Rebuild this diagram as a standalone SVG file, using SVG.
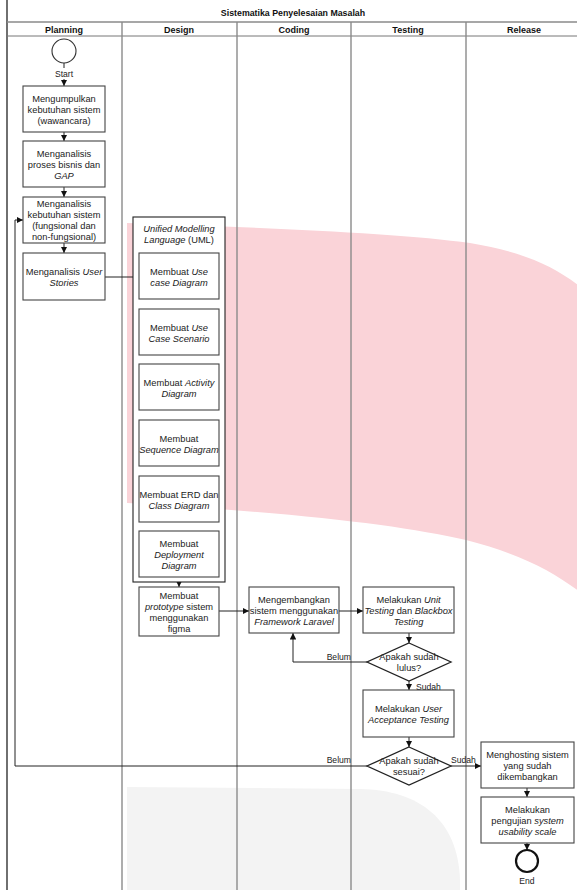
<svg xmlns="http://www.w3.org/2000/svg" width="577" height="890" viewBox="0 0 577 890">
<defs>
<style>
.t{font-family:"Liberation Sans",Arial,sans-serif;font-size:9.3px;fill:#222;text-anchor:middle}
.i{font-style:italic}
.ttl{font-family:"Liberation Sans",Arial,sans-serif;font-size:8.8px;font-weight:bold;fill:#111;text-anchor:middle}
.h{font-family:"Liberation Sans",Arial,sans-serif;font-size:9px;font-weight:bold;fill:#111;text-anchor:middle}
.lb{font-family:"Liberation Sans",Arial,sans-serif;font-size:8.6px;fill:#222}
.box{fill:#fff;stroke:#444;stroke-width:1.1}
.lane{stroke:#8a8a8a;stroke-width:1.4;fill:none}
.ln{stroke:#222;stroke-width:1;fill:none}
.arr{stroke:#222;stroke-width:1;fill:none;marker-end:url(#ah)}
</style>
<marker id="ah" viewBox="0 0 6 6" refX="6" refY="3" markerWidth="6.5" markerHeight="6.5" markerUnits="userSpaceOnUse" orient="auto">
<path d="M0,0 L6,3 L0,6 z" fill="#111"/>
</marker>
</defs>
<rect x="0" y="0" width="577" height="890" fill="#fff"/>
<g id="watermark">
<path d="M127,223 C250,227 400,233 470,243 C525,252 560,268 590,295 L590,600 C560,575 525,555 466,540 C400,525 300,513 127,503 Z" fill="#fad3d8"/>
<path d="M127,787 L360,789 C420,790 458,820 460,880 L460,890 L127,890 Z" fill="#f3f3f3"/>
</g>
<g id="pool">
<line x1="7" y1="0" x2="7" y2="890" stroke="#222" stroke-width="1.3"/>
<line x1="7" y1="22" x2="577" y2="22" class="lane"/>
<line x1="7" y1="36" x2="577" y2="36" stroke="#777" stroke-width="1"/>
<line x1="122" y1="22" x2="122" y2="890" class="lane"/>
<line x1="237" y1="22" x2="237" y2="890" class="lane"/>
<line x1="351" y1="22" x2="351" y2="890" class="lane"/>
<line x1="466" y1="22" x2="466" y2="890" class="lane"/>
<text class="ttl" x="293" y="16">Sistematika Penyelesaian Masalah</text>
<text class="h" x="64" y="32.5">Planning</text>
<text class="h" x="179" y="32.5">Design</text>
<text class="h" x="294" y="32.5">Coding</text>
<text class="h" x="408" y="32.5">Testing</text>
<text class="h" x="524" y="32.5">Release</text>
</g>
<g id="connectors">
<line class="ln" x1="64" y1="63" x2="64" y2="68"/>
<line class="arr" x1="64" y1="79" x2="64" y2="86"/>
<line class="arr" x1="64" y1="132" x2="64" y2="141"/>
<line class="arr" x1="64" y1="187" x2="64" y2="197"/>
<line class="arr" x1="64" y1="243" x2="64" y2="253"/>
<line class="arr" x1="105" y1="277" x2="139" y2="277"/>
<line class="arr" x1="179" y1="299" x2="179" y2="309"/>
<line class="arr" x1="179" y1="355" x2="179" y2="364"/>
<line class="arr" x1="179" y1="410" x2="179" y2="420"/>
<line class="arr" x1="179" y1="466" x2="179" y2="476"/>
<line class="arr" x1="179" y1="522" x2="179" y2="531"/>
<line class="arr" x1="179" y1="577" x2="179" y2="587"/>
<line class="arr" x1="219" y1="611" x2="249" y2="611"/>
<line class="arr" x1="339" y1="611" x2="363" y2="611"/>
<line class="arr" x1="409" y1="633" x2="409" y2="643"/>
<polyline class="arr" points="367,662 293,662 293,633"/>
<line class="arr" x1="409" y1="681" x2="409" y2="690"/>
<line class="arr" x1="409" y1="737" x2="409" y2="747"/>
<polyline class="arr" points="367,766 15,766 15,220 23,220"/>
<line class="arr" x1="451" y1="766" x2="481" y2="766"/>
<line class="arr" x1="527" y1="788" x2="527" y2="797"/>
<line class="arr" x1="527" y1="843" x2="527" y2="850"/>
<text class="lb" x="351" y="660" text-anchor="end">Belum</text>
<text class="lb" x="416" y="690">Sudah</text>
<text class="lb" x="351" y="763" text-anchor="end">Belum</text>
<text class="lb" x="451" y="763">Sudah</text>
</g>
<g id="start">
<circle cx="64" cy="51" r="12" fill="#fff" stroke="#333" stroke-width="1.1"/>
<text class="lb" x="64" y="77" text-anchor="middle">Start</text>
</g>
<g id="n1">
<rect class="box" x="23" y="86" width="82" height="46"/>
<text class="t" x="64" y="102">Mengumpulkan</text>
<text class="t" x="64" y="113">kebutuhan sistem</text>
<text class="t" x="64" y="124">(wawancara)</text>
</g>
<g id="n2">
<rect class="box" x="23" y="141" width="82" height="46"/>
<text class="t" x="64" y="156.5">Menganalisis</text>
<text class="t" x="64" y="167.5">proses bisnis dan</text>
<text class="t i" x="64" y="178.5">GAP</text>
</g>
<g id="n3">
<rect class="box" x="23" y="197" width="82" height="46"/>
<text class="t" x="64" y="207">Menganalisis</text>
<text class="t" x="64" y="218">kebutuhan sistem</text>
<text class="t" x="64" y="229">(fungsional dan</text>
<text class="t" x="64" y="240">non-fungsional)</text>
</g>
<g id="n4">
<rect class="box" x="23" y="253" width="82" height="47"/>
<text class="t" x="64" y="274.5">Menganalisis <tspan class="i">User</tspan></text>
<text class="t i" x="64" y="285.5">Stories</text>
</g>
<g id="uml">
<rect x="133" y="217" width="92" height="365" fill="#fff" stroke="#222" stroke-width="1.1"/>
<text class="t" x="179" y="231.5"><tspan class="i">Unified Modelling</tspan></text>
<text class="t" x="179" y="242.5"><tspan class="i">Language</tspan> (UML)</text>
</g>
<g id="u1">
<rect class="box" x="139" y="253" width="80" height="46"/>
<text class="t" x="179" y="274.5">Membuat <tspan class="i">Use</tspan></text>
<text class="t i" x="179" y="285.5">case Diagram</text>
</g>
<g id="u2">
<rect class="box" x="139" y="309" width="80" height="46"/>
<text class="t" x="179" y="330.5">Membuat <tspan class="i">Use</tspan></text>
<text class="t i" x="179" y="341.5">Case Scenario</text>
</g>
<g id="u3">
<rect class="box" x="139" y="364" width="80" height="46"/>
<text class="t" x="179" y="385.5">Membuat <tspan class="i">Activity</tspan></text>
<text class="t i" x="179" y="396.5">Diagram</text>
</g>
<g id="u4">
<rect class="box" x="139" y="420" width="80" height="46"/>
<text class="t" x="179" y="441.5">Membuat</text>
<text class="t i" x="179" y="452.5">Sequence Diagram</text>
</g>
<g id="u5">
<rect class="box" x="139" y="476" width="80" height="46"/>
<text class="t" x="179" y="497.5">Membuat ERD dan</text>
<text class="t i" x="179" y="508.5">Class Diagram</text>
</g>
<g id="u6">
<rect class="box" x="139" y="531" width="80" height="46"/>
<text class="t" x="179" y="546.5">Membuat</text>
<text class="t i" x="179" y="557.5">Deployment</text>
<text class="t i" x="179" y="568.5">Diagram</text>
</g>
<g id="proto">
<rect class="box" x="139" y="587" width="80" height="49"/>
<text class="t" x="179" y="598.5">Membuat</text>
<text class="t" x="179" y="609.5"><tspan class="i">prototype</tspan> sistem</text>
<text class="t" x="179" y="620.5">menggunakan</text>
<text class="t" x="179" y="631.5">figma</text>
</g>
<g id="dev">
<rect class="box" x="249" y="587" width="90" height="46"/>
<text class="t" x="294" y="602.5">Mengembangkan</text>
<text class="t" x="294" y="613.5">sistem menggunakan</text>
<text class="t i" x="294" y="624.5">Framework Laravel</text>
</g>
<g id="unit">
<rect class="box" x="363" y="587" width="91" height="46"/>
<text class="t" x="408.5" y="602.5">Melakukan <tspan class="i">Unit</tspan></text>
<text class="t" x="408.5" y="613.5"><tspan class="i">Testing</tspan> dan <tspan class="i">Blackbox</tspan></text>
<text class="t i" x="408.5" y="624.5">Testing</text>
</g>
<g id="d1">
<polygon points="409,643 451,662 409,681 367,662" fill="#fff" stroke="#222" stroke-width="1.3"/>
<text class="t" x="409" y="659.5">Apakah sudah</text>
<text class="t" x="409" y="670.5">lulus?</text>
</g>
<g id="uat">
<rect class="box" x="363" y="690" width="91" height="47"/>
<text class="t" x="408.5" y="711.5">Melakukan <tspan class="i">User</tspan></text>
<text class="t i" x="408.5" y="722.5">Acceptance Testing</text>
</g>
<g id="d2">
<polygon points="409,747 451,766 409,785 367,766" fill="#fff" stroke="#222" stroke-width="1.3"/>
<text class="t" x="409" y="763.5">Apakah sudah</text>
<text class="t" x="409" y="774.5">sesuai?</text>
</g>
<g id="host">
<rect class="box" x="481" y="742" width="93" height="46"/>
<text class="t" x="527.5" y="757.5">Menghosting sistem</text>
<text class="t" x="527.5" y="768.5">yang sudah</text>
<text class="t" x="527.5" y="779.5">dikembangkan</text>
</g>
<g id="sus">
<rect class="box" x="481" y="797" width="93" height="46"/>
<text class="t" x="527.5" y="812.5">Melakukan</text>
<text class="t" x="527.5" y="823.5">pengujian <tspan class="i">system</tspan></text>
<text class="t i" x="527.5" y="834.5">usability scale</text>
</g>
<g id="end">
<circle cx="527" cy="861" r="11" fill="#fff" stroke="#111" stroke-width="2.2"/>
<text class="lb" x="527" y="884" text-anchor="middle">End</text>
</g>
</svg>
